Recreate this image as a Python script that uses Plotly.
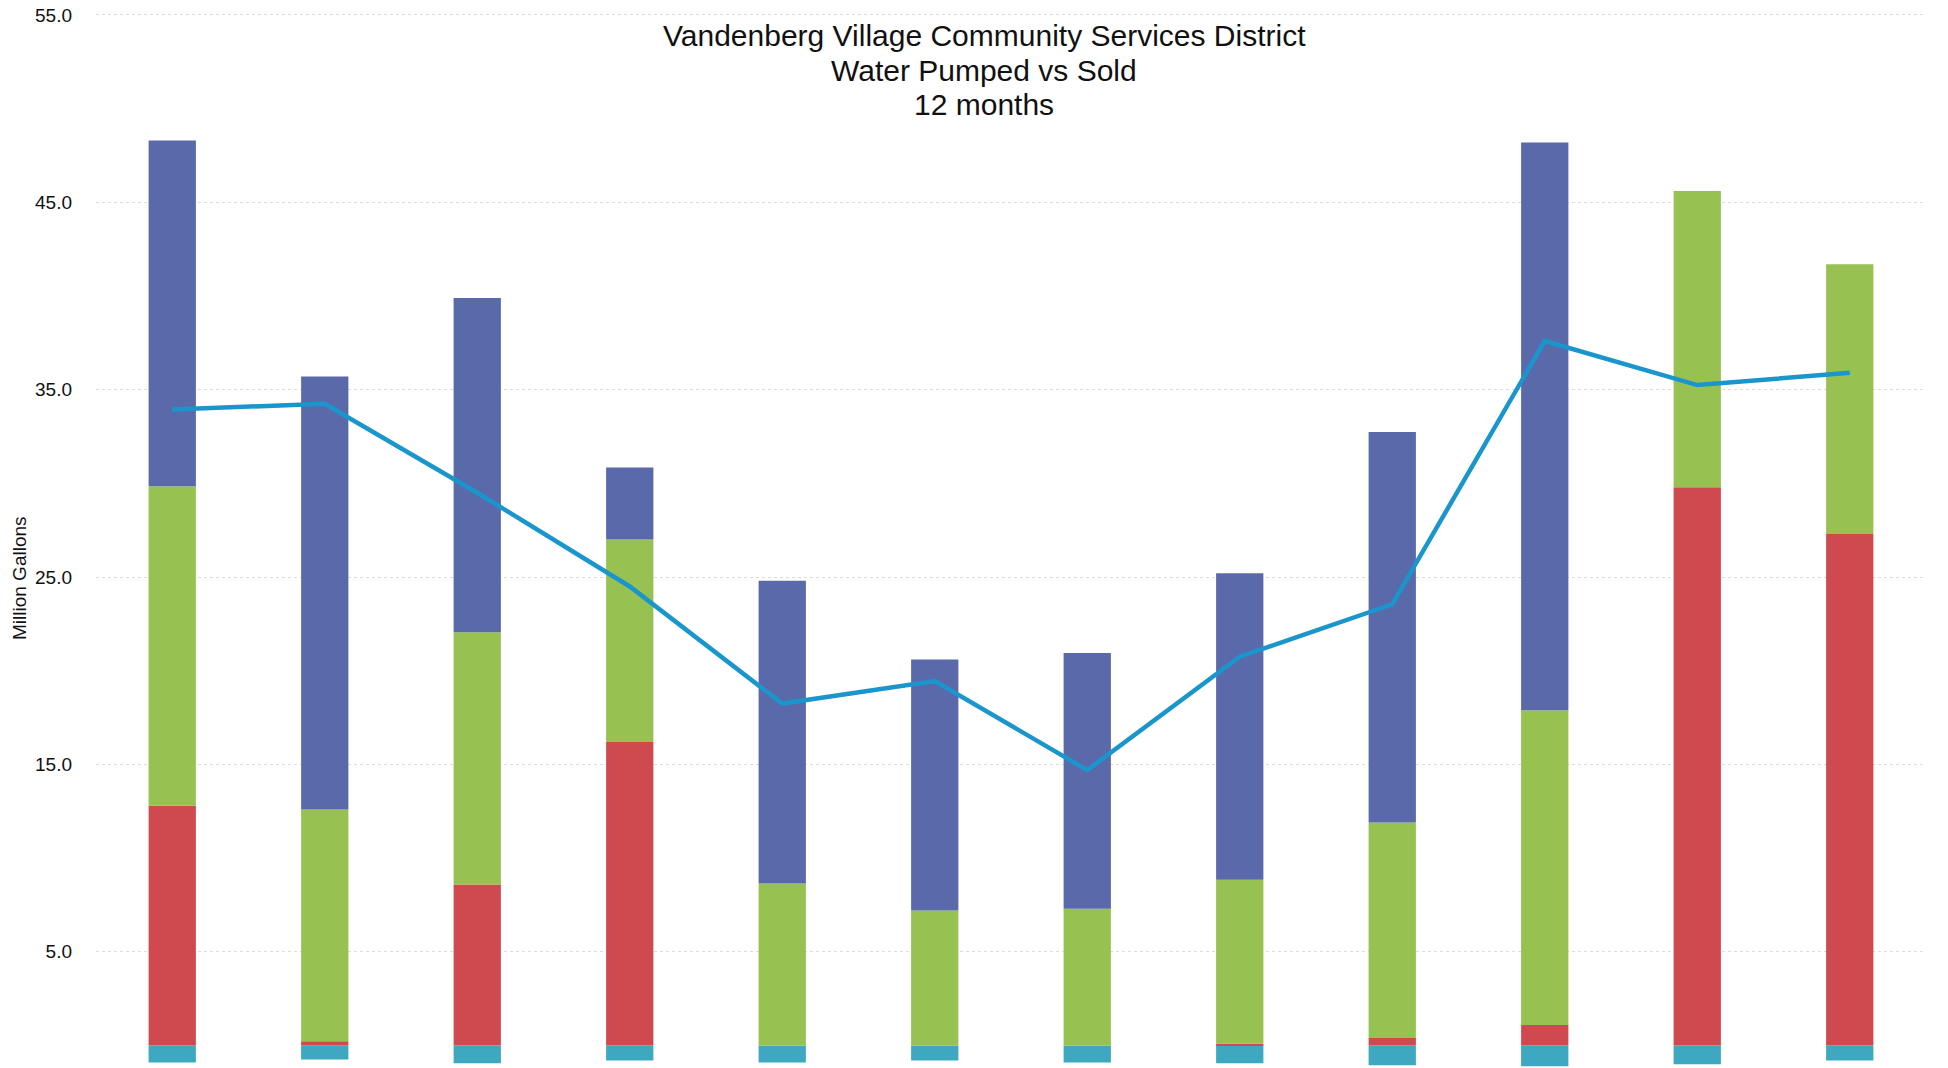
import plotly.graph_objects as go

months = ["1", "2", "3", "4", "5", "6", "7", "8", "9", "10", "11", "12"]

# stacked segment heights (million gallons)
teal_vals = [-0.9, -0.75, -0.95, -0.8, -0.9, -0.8, -0.9, -0.95, -1.05, -1.1, -1.0, -0.8]
red_vals = [12.8, 0.23, 8.6, 16.2, 0.0, 0.0, 0.0, 0.1, 0.4, 1.1, 29.8, 27.3]
green_vals = [17.05, 12.37, 13.45, 10.8, 8.65, 7.2, 7.3, 8.75, 11.5, 16.8, 15.8, 14.4]
blue_vals = [18.45, 23.1, 17.85, 3.85, 16.15, 13.4, 13.65, 16.35, 20.85, 30.3, 0.0, 0.0]
sold_vals = [33.95, 34.25, 29.5, 24.5, 18.25, 19.45, 14.7, 20.75, 23.55, 37.6, 35.25, 35.9]

y_ticks = [5, 15, 25, 35, 45, 55]
title_lines = ["Vandenberg Village Community Services District", "Water Pumped vs Sold", "12 months"]
y_title = "Million Gallons"

FONT = "Liberation Sans, Arial, sans-serif"

fig = go.Figure()
for vals, col, name in [
    (teal_vals, "#3ea8c0", "Other"),
    (red_vals, "#cf4a4f", "Source A"),
    (green_vals, "#97c252", "Source B"),
    (blue_vals, "#5a69aa", "Source C"),
]:
    fig.add_trace(go.Bar(x=months, y=vals, name=name, marker=dict(color=col, line=dict(width=0))))

fig.add_trace(go.Scatter(x=months, y=sold_vals, mode="lines", name="Sold",
                         line=dict(color="#1a96cc", width=4.5)))

fig.update_layout(
    width=1948, height=1068,
    margin=dict(l=96, r=22, t=0, b=0),
    barmode="relative", bargap=0.69,
    plot_bgcolor="white", paper_bgcolor="white",
    showlegend=False,
    font=dict(family=FONT, color="#111111"),
    xaxis=dict(showticklabels=False, showgrid=False, zeroline=False, showline=False, ticks=""),
    yaxis=dict(range=[-1.2, 55.8], tickvals=y_ticks, tickformat=".1f",
               tickfont=dict(size=19, family=FONT, color="#111111"),
               showgrid=True, gridcolor="#dcdcdc", griddash="dot", gridwidth=1,
               zeroline=False, showline=False, ticks="", ticklabelstandoff=23),
)

ys = [35, 70, 104]
for line, yp in zip(title_lines, ys):
    fig.add_annotation(text=line, xref="paper", yref="paper", x=(984 - 96) / 1830, y=1 - yp / 1068,
                       xanchor="center", yanchor="middle", showarrow=False,
                       font=dict(size=30, family=FONT, color="#111111"))

fig.add_annotation(text=y_title, xref="paper", yref="paper", x=(19 - 96) / 1830, y=1 - 578 / 1068,
                   xanchor="center", yanchor="middle", showarrow=False, textangle=-90,
                   font=dict(size=19, family=FONT, color="#111111"))

fig.write_html("out.html", config={"displayModeBar": False},
               post_script="document.body.style.margin='0';document.body.style.overflow='hidden';")
